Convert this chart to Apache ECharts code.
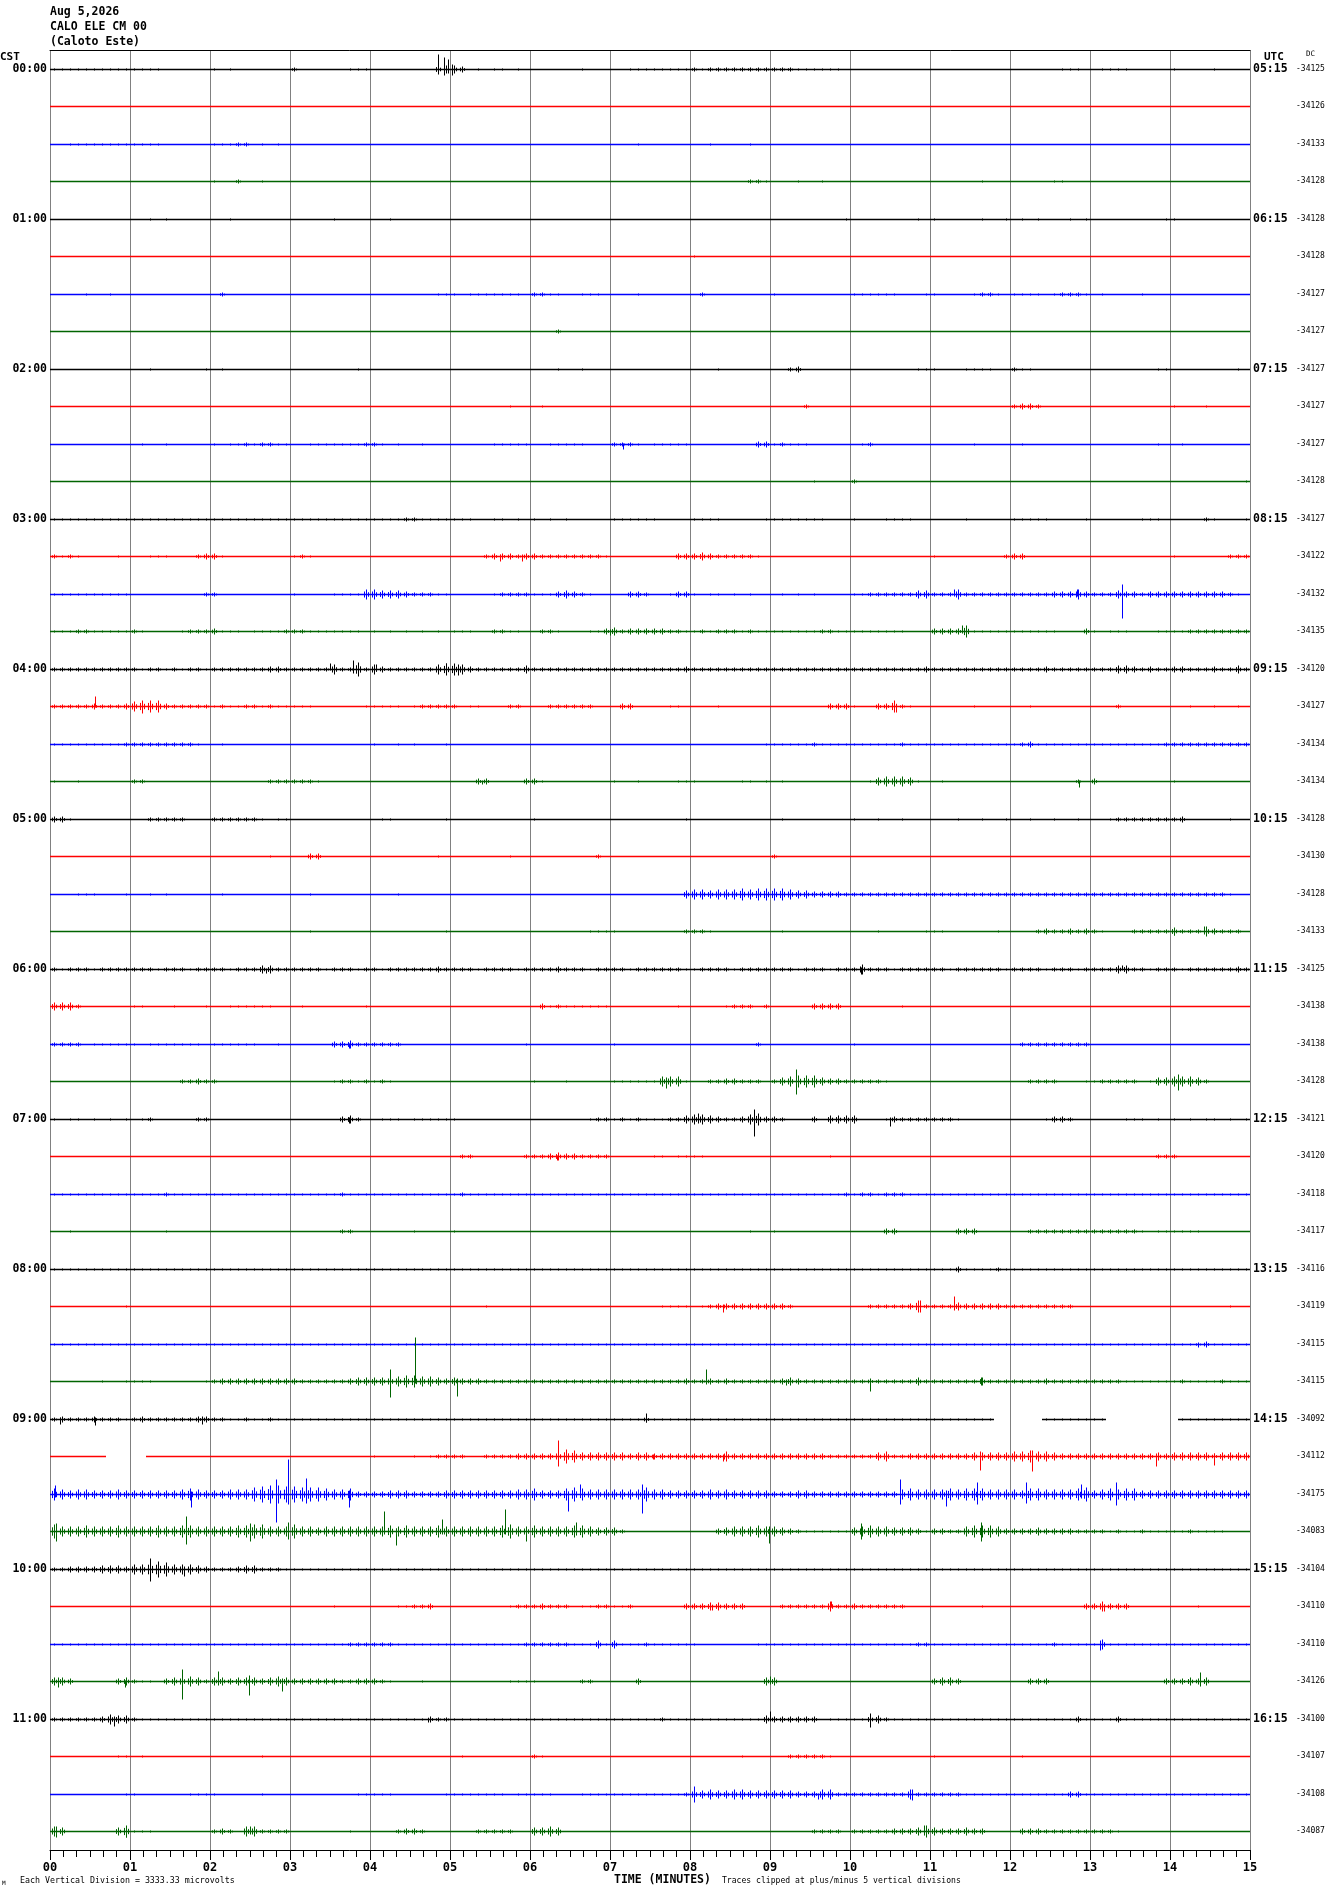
<!DOCTYPE html>
<html><head><meta charset="utf-8">
<script src="https://cdn.jsdelivr.net/npm/echarts/dist/echarts.min.js"></script>
<style>html,body{margin:0;padding:0;background:#fff}#c{width:1330px;height:1894px}</style>
</head><body><div id="c"></div>
<script>
// ---------------- DATA ----------------
const minuteLabels = ['00','01','02','03','04','05','06','07','08','09','10','11','12','13','14','15'];
const cstHourLabels = ['00:00','01:00','02:00','03:00','04:00','05:00','06:00','07:00','08:00','09:00','10:00','11:00'];
const utcHourLabels = ['05:15','06:15','07:15','08:15','09:15','10:15','11:15','12:15','13:15','14:15','15:15','16:15'];
const dcValues = ['-34125','-34126','-34133','-34128','-34128','-34128','-34127','-34127',
  '-34127','-34127','-34127','-34128','-34127','-34122','-34132','-34135',
  '-34120','-34127','-34134','-34134','-34128','-34130','-34128','-34133',
  '-34125','-34138','-34138','-34128','-34121','-34120','-34118','-34117',
  '-34116','-34119','-34115','-34115','-34092','-34112','-34175','-34083',
  '-34104','-34110','-34110','-34126','-34100','-34107','-34108','-34087'];
const traceColors = ['#000000','#ff0000','#0000ff','#006400'];
// amplitude envelope per trace: one group per minute, one char per 6 s bin
// (0-9,a-z = half-amplitude level, '-' = no data)
const traceLevels = [
 "1111111111 1111000000 1010000000 2000000111 0000000044 4301011010 0000001000 0011111111 2122222222 2221111110 0000000000 0000000000 0000001110 0111100000 1000010000",
 "0000000000 0000000000 0000000000 0000000000 0000000000 0000000000 0000000000 0000000000 0000000000 0000000000 0000000000 0000000000 0000000000 0000000000 0000000000",
 "0011111111 1111000000 1112201010 0000000000 0000000000 0000000000 0000000000 0001000000 0010000100 0000000000 0000000000 0000000000 0000000000 0000000000 0000000000",
 "0000000000 0000000000 1002001000 0000000000 0000000000 0000000000 0000000000 0000000000 0000000221 0001001000 0000000000 0000001000 0000011000 0000000000 0000000000",
 "0000000000 0010100000 0010000000 0000010000 0010000000 0000000000 0000000000 0000000000 0000000000 0000000001 0000000010 1000001001 0101000101 0000000001 1000000000",
 "0000000000 0000000000 0000000000 0000000000 0000000000 0000000000 0000000000 0000000000 1000000000 0000000000 0000000000 0000000000 0000000000 0000000000 0000000000",
 "0000100100 0000000000 0200000000 0000000000 0000000011 1011111110 2211001110 0001000000 0200000000 1000000000 1111110001 1000012210 1111012221 0100001000 0000000000",
 "0000000000 0000000000 0000000000 0000000000 0000000000 0000000000 0002000000 0000000000 0000000000 0000000000 0000000000 0000000000 0000000000 0000000000 0000000000",
 "0000000000 0010000001 0100000000 0000000010 0000000000 0000000000 0001001000 0000000000 0001000000 0023000000 0000000011 1000111100 2110000000 0000000011 0000000010",
 "0000000000 0000000000 0000000000 0000000000 0000000000 0000000100 0100000000 0000000000 0000000000 0000200000 0000000000 0000000000 2332000000 0000000000 1000100000",
 "0000000000 0100100000 1011212211 0011111112 2101001000 0000011111 0011111000 2221011111 0000000033 1211100000 0120000000 0000010000 0100000000 0000000010 0100000000",
 "0000000000 0000000000 0000000000 0000000000 0000000000 0000000000 0000000000 0000000000 0000000000 0000010000 2000000000 0000000000 0000000000 0000000000 0000000001",
 "1111111111 1111111111 1111111111 1111111111 1111221111 1110011010 1010100000 1111110000 1111000001 1111111000 1000111100 0000100000 1111100001 0000001110 0000210001",
 "2121000010 0011100023 3100000000 1210000000 0000000000 0000233323 3222222221 0000000033 3432222210 0000000000 0000000000 1000000002 3300000000 0000000000 1000000222",
 "1111111111 0000000002 2000000000 1000011115 5444322211 0000012222 1113432100 0033200133 1011010100 0101010000 1122222244 2225222222 2222233353 2224332333 3333333210",
 "1112211111 2100001222 3111011112 2211111110 1010101010 1110022110 0221000113 4233333221 1212221211 1111112211 1111111000 3333611111 1111110003 1011100011 1122222222",
 "2222222222 2122121221 2222222332 2222252272 5322222256 6532222224 2222222222 2222222223 2222222222 2222222222 2222222223 2222222222 2222322222 2224432322 3322232242",
 "2222232223 5666322222 1211221211 1110000001 1111012222 2011000220 0022222200 0330000110 0001000000 0000000333 1003362100 0000010000 0010000000 0002000000 0010010010",
 "1111111112 2222222210 0100000000 0000000000 1001010001 0000000000 0000000000 0000000000 0000000001 1111121111 1111112111 1111111111 1231111111 1111111112 2222222222",
 "1001000000 2200000000 0000000222 2221000000 0000000000 0003300003 3100000000 1001000011 1000001101 0100000000 0014555410 0100000000 0000000020 3000000000 1000000000",
 "3310000000 0022222000 2222221011 0000000000 0110000001 0000000000 1000000000 0000000001 0000000000 0100000000 1001001000 0001001001 0010010010 0012222222 2300000100",
 "0000000000 0000000000 0000000100 0033000000 0000000010 0000000100 0000000020 0000000000 0000000000 2000000000 0000000000 0000000000 0000000000 0000000000 0000000000",
 "0001110001 0010100000 0100000000 0010000000 0001000000 0000000000 0000000000 0000000004 5545556566 6654433332 2222222222 2222222222 2222222222 2222222222 2222222100",
 "0000000000 0000000000 0000000000 0010000000 0000000001 0000000000 0000000111 1000000002 2210000000 0100000000 0001000001 1100000010 0002322323 2100022222 4222532220",
 "2122212222 2221222122 2212224422 2222122212 2122222232 2221222212 2223222122 2212222221 1222212222 2221222122 2522212222 2212222221 2222122212 2224422122 2122222232",
 "4442000000 1100010001 0011111100 0100000001 0000000000 0000000000 0312111111 0000000010 0000122202 0000033330 0000001000 0000000000 0000000000 0000000000 0000000000",
 "2222011111 1011111110 1111110010 0000033422 2222000000 0000000001 0000000000 1000000000 0000000020 0000000000 1000000000 0000000000 0222222222 0000000000 0000000000",
 "0000000000 0000002232 2000000000 0000012212 1210000000 0000000000 1000100000 1111115551 0022332220 2456664332 2222100000 0000000000 0022220001 1222220144 5554200000",
 "1011010101 0120000022 0000000000 0000003420 0111011111 1000000000 0000000122 1212111224 5543223563 3200030444 4000132222 2221000000 0000133200 0000111010 1010110101",
 "0000000000 0000000000 0000000000 0000000000 0000000000 0220000002 2234332222 0000011011 1100000000 0000000100 0000000000 0000000000 0000000000 0000000022 2000000000",
 "1111111111 1111211111 1111111111 1111112111 1111111111 1211111111 1111111111 1111111111 1111111111 1111111112 1221222111 1111111111 1111111111 1111111111 1111111111",
 "0010000000 0000100000 0000000000 0000002200 0000010000 1000000000 0000000000 0000000000 0000000100 1000000000 0000330000 0003330000 0022222222 2222221011 1111000000",
 "1111111111 1111111111 1111111111 1111111111 1111111111 1111111111 1111111111 1111111111 1111111111 1111111111 1111111111 1113111121 1111111111 1111111111 1111111111",
 "0000000001 0000000000 0000000000 0000000000 0000000000 0000100000 0000000000 0000001111 0123333333 3320000000 0022222362 2224333332 2222222200 0000000000 0000000100",
 "1111111111 1111111111 1111111111 1111111111 1111111111 1111111111 1111111111 1111111111 1111111111 1111111111 1111111111 1111111111 1111111111 1111111111 1112311111",
 "0000001001 1110000001 2333333333 3222222344 4455665543 4333222222 2222222222 2222222223 2232322222 2343222222 2232222242 2222224222 2222322222 2222111111 1211112111",
 "2322232221 2322222233 2211211211 1111111111 1111111111 1111111111 1111111111 1111311111 1111111111 1111111111 1111111111 11111111-- ----111111 11-------- -111111111",
 "0000000--- --00000000 0000000000 0000000000 1000010122 2200222233 3335764444 4434433333 3333533333 3333333222 2224522333 3333344444 5565543333 3333333343 4444434444",
 "6545544454 4444445654 4455578998 8777655633 3344433334 4444444455 6444676555 5555755444 4454544444 3334433333 3333335655 5565666555 5466555567 4565664444 4444444444",
 "7555655565 5556556655 5556677555 7554555555 5565655565 5555556755 6555566544 4200000000 0003455565 5432111111 4565544431 3322566653 3334333322 2212112111 1121111000",
 "2233334443 5588755543 2223442221 1111111111 1111111111 1111111111 1111111111 1111111111 1111111111 1111111111 1111111111 1111111111 1111111111 1111111111 1111111111",
 "0000000000 0000000000 0000000000 0000010000 0001122300 0000000122 2322201122 1120000003 3344333000 0222222522 3222222000 0000001000 0000000003 3533300000 0001000000",
 "1111111111 1111111111 1111111111 1111111222 2221111111 1111111112 2222211141 4111211111 1000000011 1111111111 1111111122 1111111111 1111121111 1511111111 1111111111",
 "4430000034 2110345542 4434443454 3333332233 3210001000 0000000111 1000002200 0003000000 0000000004 4000000000 0000000000 3443000000 0033300000 0000000003 3343400000",
 "2222223544 2111111111 1111111111 1111111111 1111111322 1111111111 1111111111 1111112111 1111111114 3333330111 1144211111 1111111111 1111111131 1113111111 1111111111",
 "0000000011 0100000000 0000001000 0000000000 0000000000 0100000000 2100000000 0000000000 0000001000 0022222100 0000000000 1000000000 0100000000 0000000000 0000000000",
 "0000000001 1000000111 1000001000 0000000011 1110000001 1111111011 1110001111 1111111112 5454455444 4443335522 2222222522 2222111111 1111111331 1111111111 1111111111",
 "5400000046 1110000000 2320552222 0000000100 0002332000 0002222200 4454000000 0000000000 0000000000 0000022220 2222233346 4333433000 0333222222 2221000000 0000000000"
];
// isolated large excursions: [trace, minute, up, down] (amplitude units)
const spikes = [
 [0,4.85,15,5],[0,4.92,12,6],[0,4.97,10,4],[0,5.02,5,6],
 [10,7.16,1,5],
 [13,5.62,2,5],[13,5.9,2,5],
 [14,11.3,5,2],[14,12.84,5,2],[14,13.4,10,24],
 [15,7.0,2,4],[15,11.4,6,2],
 [16,3.5,6,1],[16,3.79,9,4],[16,4.08,5,2],[16,4.95,6,5],[16,5.1,5,6],
 [17,0.56,10,1],[17,1.15,5,7],[17,10.58,2,6],
 [19,5.4,1,3],[19,12.86,1,6],
 [23,14.05,2,4],[23,14.43,5,1],
 [24,2.7,1,4],[24,10.14,2,5],[24,13.4,4,1],
 [26,3.74,1,4],
 [27,7.7,4,7],[27,9.33,12,13],[27,14.1,7,9],
 [28,3.74,2,4],[28,8.1,6,4],[28,8.8,10,17],[28,10.5,2,7],
 [29,6.34,1,4],
 [33,8.41,2,6],[33,10.87,6,6],[33,11.3,10,4],
 [34,14.35,1,3],
 [35,4.25,12,16],[35,4.56,44,2],[35,5.09,3,15],[35,8.2,12,3],[35,9.2,2,4],[35,10.25,2,10],[35,11.64,4,4],
 [36,0.13,2,5],[36,0.56,2,6],[36,1.9,3,5],[36,7.45,6,3],
 [37,6.35,16,10],[37,7.54,2,3],[37,8.41,2,5],[37,11.62,5,14],[37,12.27,6,15],[37,13.82,3,10],[37,14.55,3,9],
 [38,0.06,9,3],[38,1.76,3,13],[38,2.82,15,28],[38,2.97,35,10],[38,3.2,16,9],[38,3.74,4,13],[38,6.48,3,17],[38,6.63,10,3],[38,7.4,10,19],[38,10.63,15,10],[38,11.2,4,12],[38,11.59,12,10],[38,12.2,12,9],[38,12.89,10,4],[38,13.33,12,11],
 [39,0.08,8,10],[39,1.7,15,13],[39,2.5,8,10],[39,2.97,9,8],[39,4.17,20,3],[39,4.32,3,14],[39,4.9,12,3],[39,5.69,22,3],[39,5.95,3,10],[39,6.58,9,4],[39,8.99,5,12],[39,10.14,8,8],[39,11.64,9,10],
 [40,1.25,11,12],[40,1.67,3,7],
 [41,8.27,1,4],[41,9.76,5,1],[41,13.18,1,5],
 [42,13.13,4,6],
 [43,0.1,4,6],[43,0.94,1,6],[43,1.65,12,18],[43,2.1,10,4],[43,2.49,6,14],[43,2.9,3,10],[43,7.35,1,3],[43,9.0,5,3],[43,14.38,9,5],
 [44,0.8,3,7],[44,4.73,1,3],[44,9.0,8,2],[44,10.25,6,8],
 [46,8.05,8,8],[46,9.6,1,5],[46,10.78,5,6],
 [47,0.08,5,6],[47,0.95,2,6],[47,2.5,5,3],[47,10.92,6,4]
];
const AMP_UNITS_PER_TRACE = 37.5;   // amplitude units per trace spacing
const MINUTES = 15;

// ---------------- CHART ----------------
const traceIndex = dcValues.map((_, i) => String(i));
const FONT = '"DejaVu Sans Mono", "Liberation Mono", monospace';
const snap = v => Math.round(v) + 0.5;

function renderTrace(params, api) {
  const t = api.value(1);
  const groups = traceLevels[t].trim().split(/\s+/);
  while (groups.length < MINUTES) groups.push('0');
  const cy = snap(api.coord([0, t])[1]);
  const k = api.size([0, 1])[1] / AMP_UNITS_PER_TRACE;
  const color = traceColors[t % 4];
  const children = [];
  let segStart = null, segEnd = null;
  const flush = () => {
    if (segStart !== null) {
      children.push({type: 'line', shape: {x1: segStart, y1: cy, x2: segEnd, y2: cy},
        style: {stroke: color, lineWidth: 1.3}});
    }
    segStart = null;
  };
  const tick = (x, a) => children.push({type: 'line',
    shape: {x1: snap(x), y1: cy - a, x2: snap(x), y2: cy + a},
    style: {stroke: color, lineWidth: 1}});
  groups.slice(0, MINUTES).forEach((g, m) => {
    const n = g.length;
    for (let i = 0; i < n; i++) {
      const x0 = api.coord([m + i / n, t])[0];
      const x1 = api.coord([m + (i + 1) / n, t])[0];
      const ch = g[i];
      if (ch === '-') { flush(); continue; }
      if (segStart === null) segStart = x0;
      segEnd = x1;
      const L = parseInt(ch, 36) || 0;
      if (L > 0) {
        const a = L * k;
        const w = x1 - x0;
        tick(x0 + w * 0.5, a);
        if (L >= 2) {
          tick(x0 + w * 0.2, a * 0.6);
          tick(x0 + w * 0.8, a * 0.45);
        }
      }
    }
  });
  flush();
  return {type: 'group', children: children};
}

function renderSpike(params, api) {
  const t = api.value(0);
  const p = api.coord([api.value(1), t]);
  const k = api.size([0, 1])[1] / AMP_UNITS_PER_TRACE;
  const x = snap(p[0]), cy = snap(p[1]);
  return {type: 'line', shape: {x1: x, y1: cy - api.value(2) * k, x2: x, y2: cy + api.value(3) * k},
    style: {stroke: traceColors[t % 4], lineWidth: 1}};
}

const chart = echarts.init(document.getElementById('c'), null, {renderer: 'canvas'});
const txt = (x, y, text, size, bold, align) => ({
  type: 'text', x: x, y: y, silent: true,
  style: {text: text, font: (bold ? 'bold ' : '') + size + 'px ' + FONT, fill: '#000',
    align: align || 'left', verticalAlign: 'middle'}
});

chart.setOption({
  animation: false,
  backgroundColor: '#ffffff',
  grid: {left: 50, right: 80, top: 50, bottom: 44, show: false},
  xAxis: [{
    type: 'value', min: 0, max: MINUTES, interval: 1, position: 'bottom',
    axisLine: {show: true, onZero: false, lineStyle: {color: '#000', width: 1}},
    axisTick: {show: true, length: 10, lineStyle: {color: '#000', width: 1}},
    minorTick: {show: true, splitNumber: 6, length: 7, lineStyle: {color: '#000', width: 1}},
    minorSplitLine: {show: false},
    axisLabel: {formatter: v => minuteLabels[Math.round(v)], fontFamily: FONT, fontWeight: 'bold',
      fontSize: 12, color: '#000', margin: 12},
    splitLine: {show: true, lineStyle: {color: '#808080', width: 1}}
  }, {
    type: 'value', min: 0, max: MINUTES, position: 'top',
    axisLine: {show: true, onZero: false, lineStyle: {color: '#000', width: 1}},
    axisTick: {show: false}, axisLabel: {show: false}, splitLine: {show: false}
  }],
  yAxis: [{
    type: 'category', data: traceIndex, inverse: true, position: 'left',
    axisLine: {show: false}, axisTick: {show: false}, splitLine: {show: false},
    axisLabel: {interval: 3, formatter: (v, i) => cstHourLabels[Math.floor(i / 4)],
      fontFamily: FONT, fontWeight: 'bold', fontSize: 11.5, color: '#000', margin: 3, padding: [5, 0, 0, 0]}
  }, {
    type: 'category', data: traceIndex, inverse: true, position: 'right',
    axisLine: {show: false}, axisTick: {show: false}, splitLine: {show: false},
    axisLabel: {interval: 3, formatter: (v, i) => utcHourLabels[Math.floor(i / 4)],
      fontFamily: FONT, fontWeight: 'bold', fontSize: 11.5, color: '#000', margin: 3, padding: [5, 0, 0, 0]}
  }, {
    type: 'category', data: traceIndex, inverse: true, position: 'right', offset: 43,
    axisLine: {show: false}, axisTick: {show: false}, splitLine: {show: false},
    axisLabel: {interval: 0, formatter: (v, i) => dcValues[i],
      fontFamily: FONT, fontSize: 8, color: '#000', margin: 3, padding: [5, 0, 0, 0]}
  }],
  graphic: [
    txt(50, 12, 'Aug 5,2026', 11.5, true),
    txt(50, 27, 'CALO ELE CM 00', 11.5, true),
    txt(50, 42, '(Caloto Este)', 11.5, true),
    txt(0, 57, 'CST', 11, true),
    txt(1264, 57, 'UTC', 11, true),
    txt(1306, 54, 'DC', 7.5, false),
    txt(614, 1880, 'TIME (MINUTES)', 11.5, true),
    txt(20, 1881, 'Each Vertical Division = 3333.33 microvolts', 8.3, false),
    txt(722, 1881, 'Traces clipped at plus/minus 5 vertical divisions', 8.1, false),
    txt(2, 1883, 'M', 6, false)
  ],
  series: [{
    type: 'custom', xAxisIndex: 0, yAxisIndex: 0,
    data: traceLevels.map((s, i) => [0, i]),
    encode: {x: 0, y: 1},
    renderItem: renderTrace, progressive: 0, silent: true, clip: false, z: 3
  }, {
    type: 'custom', xAxisIndex: 0, yAxisIndex: 0,
    data: spikes.map(s => [s[0], s[1], s[2], s[3]]),
    encode: {x: 1, y: 0},
    renderItem: renderSpike, progressive: 0, silent: true, clip: false, z: 4
  }]
});
</script>
</body></html>
